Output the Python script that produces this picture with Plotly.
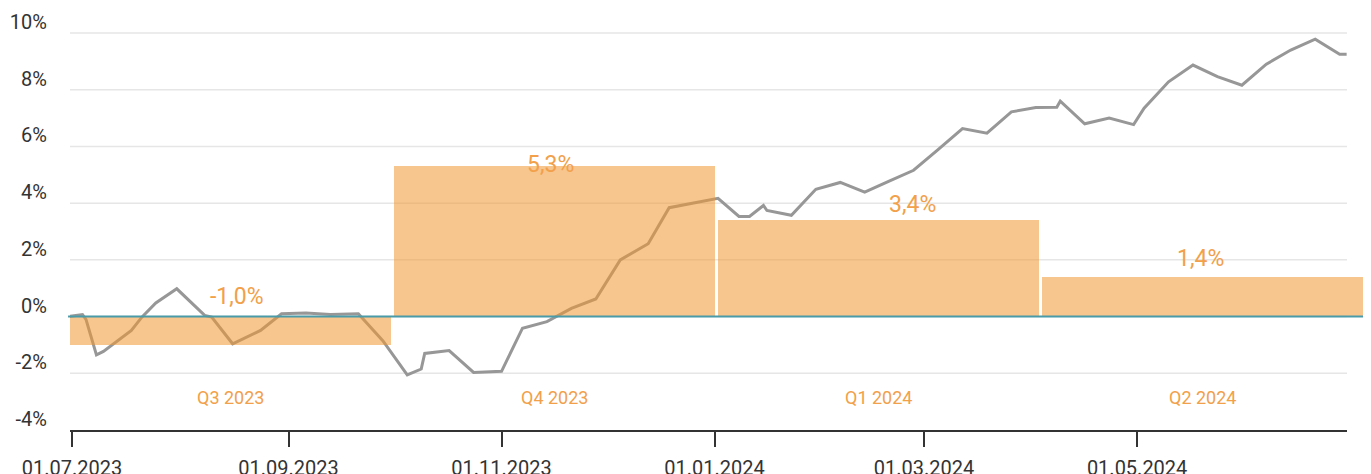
import plotly.graph_objects as go

# ---- data ----
dates = ['2023-06-30', '2023-07-04', '2023-07-05', '2023-07-08', '2023-07-10', '2023-07-18',
         '2023-07-21', '2023-07-25', '2023-07-31', '2023-08-08', '2023-08-10', '2023-08-16',
         '2023-08-24', '2023-08-30', '2023-09-06', '2023-09-13', '2023-09-21', '2023-09-28',
         '2023-10-05', '2023-10-09', '2023-10-10', '2023-10-17', '2023-10-24', '2023-11-01',
         '2023-11-07', '2023-11-14', '2023-11-21', '2023-11-28', '2023-12-05', '2023-12-13',
         '2023-12-19', '2023-12-26', '2024-01-02', '2024-01-08', '2024-01-11', '2024-01-15',
         '2024-01-16', '2024-01-23', '2024-01-30', '2024-02-06', '2024-02-13', '2024-02-20',
         '2024-02-27', '2024-03-05', '2024-03-12', '2024-03-19', '2024-03-26', '2024-04-02',
         '2024-04-08', '2024-04-09', '2024-04-16', '2024-04-23', '2024-04-30', '2024-05-03',
         '2024-05-10', '2024-05-17', '2024-05-24', '2024-05-31', '2024-06-07', '2024-06-14',
         '2024-06-21', '2024-06-28', '2024-06-30']
line_values = [0.0, 0.07, -0.1, -1.35, -1.23, -0.49, -0.02, 0.48, 0.98, 0.04, -0.02, -0.96,
               -0.49, 0.1, 0.13, 0.07, 0.1, -0.85, -2.06, -1.85, -1.3, -1.2, -1.97, -1.93,
               -0.41, -0.18, 0.29, 0.62, 2.0, 2.57, 3.84, 4.0, 4.17, 3.53, 3.53, 3.92,
               3.74, 3.57, 4.49, 4.73, 4.39, 4.78, 5.16, 5.89, 6.63, 6.47, 7.22, 7.37,
               7.38, 7.6, 6.8, 7.0, 6.77, 7.35, 8.28, 8.87, 8.46, 8.16, 8.9, 9.4,
               9.78, 9.25, 9.25]

quarters = ['Q3 2023', 'Q4 2023', 'Q1 2024', 'Q2 2024']
quarter_values = [-1.0, 5.3, 3.4, 1.4]
quarter_labels = ['-1,0%', '5,3%', '3,4%', '1,4%']

y_tickvals = [-4, -2, 0, 2, 4, 6, 8, 10]
y_ticktext = ['-4%', '-2%', '0%', '2%', '4%', '6%', '8%', '10%']

# ---- styling ----
ORANGE_TXT = '#F2A049'
BAR_COL = 'rgba(240,150,50,0.55)'
LINE_COL = '#979797'
AXIS_COL = '#333333'
GRID_COL = '#E6E6E6'
ZERO_COL = '#4A9BAA'
FONT = 'Roboto'

fig = go.Figure()

fig.add_trace(go.Scatter(
    x=dates, y=line_values, mode='lines',
    line=dict(color=LINE_COL, width=3),
    xaxis='x', yaxis='y', hoverinfo='skip', showlegend=False))

fig.add_trace(go.Bar(
    x=quarters, y=quarter_values,
    marker=dict(color=BAR_COL, line=dict(width=0)),
    width=321 / 324, offset=-0.5,
    xaxis='x2', yaxis='y', hoverinfo='skip', showlegend=False))

# gridlines (span the date axis only)
shapes = []
for v in y_tickvals[1:]:
    shapes.append(dict(type='line', xref='x domain', yref='y', x0=0, x1=1, y0=v, y1=v,
                       line=dict(color=GRID_COL, width=1.5), layer='below'))
# zero line across the full width
shapes.append(dict(type='line', xref='paper', yref='y', x0=-0.0015, x1=0.9985, y0=0, y1=0,
                   line=dict(color=ZERO_COL, width=2), layer='above'))

annotations = []
val_xshift = [5, -6, 32, -4]
val_yshift = [20, 2, 16, 18]
for i, q in enumerate(quarters):
    base = max(quarter_values[i], 0)
    annotations.append(dict(x=q, y=base, xref='x2', yref='y', text=quarter_labels[i],
                            showarrow=False, xshift=val_xshift[i], yshift=val_yshift[i],
                            yanchor='middle',
                            font=dict(family=FONT, size=23, color=ORANGE_TXT)))
    annotations.append(dict(x=q, y=-2.85, xref='x2', yref='y', text=q,
                            showarrow=False, xshift=-1.5, yanchor='middle',
                            font=dict(family=FONT, size=18, color=ORANGE_TXT)))

# the page body adds an 8px offset, so the figure is sized to fit the window
fig.update_layout(
    width=1363, height=466,
    margin=dict(l=62, r=5, t=8, b=44, pad=0),
    paper_bgcolor='white', plot_bgcolor='rgba(0,0,0,0)',
    font=dict(family=FONT, color=AXIS_COL),
    bargap=0,
    xaxis=dict(
        type='date', domain=[0, 1277 / 1296],
        range=['2023-06-30 10:15', '2024-06-30 02:30'],
        tick0='2023-07-01', dtick='M2', tickformat='%d.%m.%Y',
        ticks='outside', ticklen=15, tickwidth=1.5, tickcolor=AXIS_COL,
        showline=True, linecolor=AXIS_COL, linewidth=1.5,
        showgrid=False, zeroline=False, automargin=False,
        tickfont=dict(family=FONT, size=20, color=AXIS_COL),
        ticklabelstandoff=4, anchor='y'),
    xaxis2=dict(
        type='category', domain=[0, 1], range=[-0.5, 3.5], anchor='y',
        visible=False, showgrid=False, zeroline=False, automargin=False),
    yaxis=dict(
        range=[-4, 10.6], tickvals=y_tickvals, ticktext=y_ticktext,
        showgrid=False, zeroline=False, showline=False, ticks='',
        tickfont=dict(family=FONT, size=20, color=AXIS_COL),
        ticklabelshift=-11, ticklabelstandoff=22, automargin=False, anchor='x'),
    shapes=shapes, annotations=annotations,
)

fig.write_html('out.html')
